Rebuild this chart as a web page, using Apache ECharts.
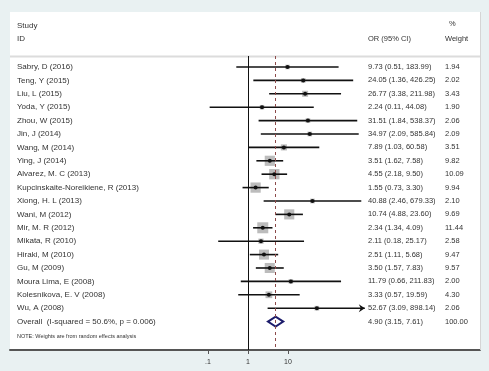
<!DOCTYPE html>
<html>
<head>
<meta charset="utf-8">
<script src="https://cdn.jsdelivr.net/npm/echarts@6/dist/echarts.min.js"></script>
<style>
html, body { margin: 0; padding: 0; background: #e9f1f2; }
#main { width: 489px; height: 371px; }
</style>
</head>
<body>
<div id="main"></div>
<script>
var studies = ['Sabry, D (2016)', 'Teng, Y (2015)', 'Liu, L (2015)', 'Yoda, Y (2015)', 'Zhou, W (2015)',
  'Jin, J (2014)', 'Wang, M (2014)', 'Ying, J (2014)', 'Alvarez, M. C (2013)', 'Kupcinskaite-Noreikiene, R (2013)',
  'Xiong, H. L (2013)', 'Wani, M (2012)', 'Mir, M. R (2012)', 'Mikata, R (2010)', 'Hiraki, M (2010)',
  'Gu, M (2009)', 'Moura Lima, E (2008)', 'Kolesnikova, E. V (2008)', 'Wu, A (2008)'];
var orVal = [9.73, 24.05, 26.77, 2.24, 31.51, 34.97, 7.89, 3.51, 4.55, 1.55, 40.88, 10.74, 2.34, 2.11, 2.51, 3.50, 11.79, 3.33, 52.67];
var ciLow = [0.51, 1.36, 3.38, 0.11, 1.84, 2.09, 1.03, 1.62, 2.18, 0.73, 2.46, 4.88, 1.34, 0.18, 1.11, 1.57, 0.66, 0.57, 3.09];
var ciHigh = [183.99, 426.25, 211.98, 44.08, 538.37, 585.84, 60.58, 7.58, 9.50, 3.30, 679.33, 23.60, 4.09, 25.17, 5.68, 7.83, 211.83, 19.59, 898.14];
var weights = [1.94, 2.02, 3.43, 1.90, 2.06, 2.09, 3.51, 9.82, 10.09, 9.94, 2.10, 9.69, 11.44, 2.58, 9.47, 9.57, 2.00, 4.30, 2.06];

var overallName = 'Overall  (I-squared = 50.6%, p = 0.006)';
var overallOr = [4.90];
var overallLow = [3.15];
var overallHigh = [7.61];
var overallWeight = [100.00];

var tickValues = [0.1, 1, 10];
var tickLabels = ['.1', '1', '10'];

var FONT = '"Liberation Sans", Arial, sans-serif';
var TXT = '#333';
var clipMax = 2.92; // CI past this gets an arrow

function lg(v) {
  return Math.log(v) / Math.LN10;
}
function f2(v) {
  return v.toFixed(2);
}

var rows = [];
for (var i = 0; i < studies.length; i++) {
  rows.push([i, lg(orVal[i]), lg(ciLow[i]), lg(ciHigh[i]), weights[i]]);
}
var overallRow = studies.length;

// text table: names, OR (95% CI), weight
var tableRows = [];
var tableText = [];
for (var i = 0; i < studies.length; i++) {
  tableRows.push([i, 0]);
  tableText.push([studies[i], f2(orVal[i]) + ' (' + f2(ciLow[i]) + ', ' + f2(ciHigh[i]) + ')', f2(weights[i])]);
}
tableRows.push([overallRow, 0]);
tableText.push([overallName, f2(overallOr[0]) + ' (' + f2(overallLow[0]) + ', ' + f2(overallHigh[0]) + ')', f2(overallWeight[0])]);

function renderStudy(params, api) {
  var row = api.value(0);
  var c = api.coord([api.value(1), row]);
  var lo = api.coord([api.value(2), row]);
  var hiV = api.value(3);
  var hi = api.coord([Math.min(hiV, clipMax), row]);
  var side = 3.25 * Math.sqrt(api.value(4));
  var children = [{
    type: 'rect',
    shape: { x: c[0] - side / 2, y: c[1] - side / 2, width: side, height: side },
    style: { fill: '#bcbcbc' }
  }, {
    type: 'line',
    shape: { x1: lo[0], y1: lo[1], x2: hi[0], y2: hi[1] },
    style: { stroke: '#111', lineWidth: 1.6 }
  }, {
    type: 'circle',
    shape: { cx: c[0], cy: c[1], r: 2 },
    style: { fill: '#111' }
  }];
  if (hiV > clipMax) {
    children.push({
      type: 'polygon',
      shape: { points: [[hi[0] - 6, hi[1] - 4], [hi[0], hi[1]], [hi[0] - 6, hi[1] + 4], [hi[0] - 4, hi[1]]] },
      style: { fill: '#111' }
    });
  }
  return { type: 'group', children: children };
}

function renderDiamond(params, api) {
  var row = api.value(0);
  var c = api.coord([api.value(1), row]);
  var lo = api.coord([api.value(2), row]);
  var hi = api.coord([api.value(3), row]);
  return {
    type: 'polygon',
    shape: { points: [[lo[0], c[1]], [c[0], c[1] - 5], [hi[0], c[1]], [c[0], c[1] + 5]] },
    style: { fill: '#fff', stroke: '#1c1c6b', lineWidth: 2 }
  };
}

function renderTable(params, api) {
  var y = api.coord([0, api.value(0)])[1];
  var t = tableText[params.dataIndex];
  var xs = [17, 368, 445];
  var sizes = [8, 7.5, 7.5];
  var children = [];
  for (var k = 0; k < 3; k++) {
    children.push({
      type: 'text',
      style: { x: xs[k], y: y, text: t[k], fill: TXT, font: sizes[k] + 'px ' + FONT, verticalAlign: 'middle' }
    });
  }
  return { type: 'group', children: children };
}

function hdr(x, y, s, size) {
  return { type: 'text', x: x, y: y, style: { text: s, fill: TXT, font: (size || 8) + 'px ' + FONT, verticalAlign: 'middle' } };
}

var chart = echarts.init(document.getElementById('main'));
var option = {
  backgroundColor: '#e9f1f2',
  animation: false,
  grid: { left: 10, right: 9, top: 56, bottom: 21 },
  xAxis: {
    type: 'value',
    min: -5.95,
    max: 5.8,
    splitLine: { show: false },
    axisLine: { onZero: false, lineStyle: { color: '#555', width: 2 } },
    axisTick: { customValues: tickValues.map(lg), length: 4, lineStyle: { color: '#555' } },
    axisLabel: {
      customValues: tickValues.map(lg),
      color: TXT,
      fontSize: 7,
      fontFamily: FONT,
      margin: 9,
      formatter: function (v) {
        return tickLabels[Math.round(v) + 1];
      }
    }
  },
  yAxis: { type: 'value', min: -0.82, max: 21.12, inverse: true, show: false },
  graphic: [
    { type: 'rect', z: 0, shape: { x: 10, y: 12, width: 470, height: 338 }, style: { fill: '#fff' } },
    { type: 'line', z: 1, shape: { x1: 480.5, y1: 12, x2: 480.5, y2: 350 }, style: { stroke: '#d5d5d5', lineWidth: 1 } },
    { type: 'line', z: 1, shape: { x1: 10, y1: 56.5, x2: 480, y2: 56.5 }, style: { stroke: '#dcdcdc', lineWidth: 2 } },
    hdr(17, 26, 'Study'),
    hdr(17, 39, 'ID'),
    hdr(368, 39, 'OR (95% CI)', 7.5),
    hdr(449, 24, '%', 7.5),
    hdr(445, 39, 'Weight', 7.5),
    hdr(17, 336, 'NOTE: Weights are from random effects analysis', 5.5)
  ],
  series: [{
    type: 'scatter',
    data: [],
    silent: true,
    markLine: {
      silent: true,
      symbol: 'none',
      label: { show: false },
      data: [
        { xAxis: 0, lineStyle: { color: '#111', width: 1, type: 'solid' } },
        { xAxis: lg(overallOr[0]), lineStyle: { color: '#8c4a4a', width: 1, type: [3, 3] } }
      ]
    }
  }, {
    type: 'custom',
    renderItem: renderStudy,
    data: rows,
    silent: true
  }, {
    type: 'custom',
    renderItem: renderDiamond,
    data: [[overallRow, lg(overallOr[0]), lg(overallLow[0]), lg(overallHigh[0])]],
    silent: true
  }, {
    type: 'custom',
    renderItem: renderTable,
    data: tableRows,
    silent: true
  }]
};
chart.setOption(option);
</script>
</body>
</html>
